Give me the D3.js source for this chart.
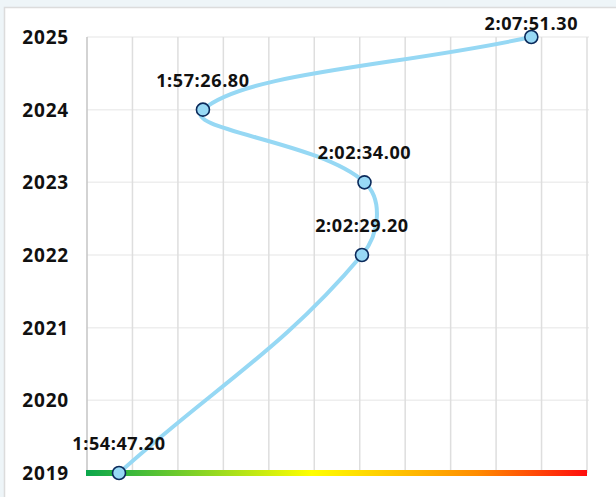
<!DOCTYPE html>
<html>
<head>
<meta charset="utf-8">
<script src="https://cdn.jsdelivr.net/npm/d3@7"></script>
<style>
  html, body { margin: 0; padding: 0; background: #eef5f8; }
  svg { display: block; }
  text { font-family: "Open Sans", sans-serif; font-weight: 700; fill: #111; }
</style>
</head>
<body>
<div id="chart"></div>
<script>
// race years and finish times
const years = [2019, 2022, 2023, 2024, 2025];
const times = ['1:54:47.20', '2:02:29.20', '2:02:34.00', '1:57:26.80', '2:07:51.30'];
const yearTicks = [2019, 2020, 2021, 2022, 2023, 2024, 2025];
const timeBounds = ['1:53:46.3', '2:09:37.2'];

const toSec = s => {
  const p = s.split(':').map(Number);
  return (p[0] * 3600) + (p[1] * 60) + p[2];
};

const W = 616;
const H = 497;
const plotLeft = 87;
const plotRight = 587;
const plotTop = 37;
const plotBottom = 473;

const data = years.map((yr, i) => ({ year: yr, label: times[i], sec: toSec(times[i]) }));

const x = d3.scaleLinear()
  .domain(timeBounds.map(toSec))
  .range([plotLeft, plotRight]);

const y = d3.scaleLinear()
  .domain([2019, 2025])
  .range([plotBottom, plotTop]);

const svg = d3.select('#chart')
  .append('svg')
  .attr('width', W)
  .attr('height', H);

// card
svg.append('rect')
  .attr('x', 4.5)
  .attr('y', 7.5)
  .attr('width', W + 20)
  .attr('height', H + 20)
  .attr('fill', '#fff')
  .attr('stroke', '#dcdcdc')
  .attr('stroke-width', 1.5);

// horizontal grid
svg.append('g')
  .selectAll('line')
  .data(yearTicks.slice(1))
  .enter()
  .append('line')
  .attr('x1', plotLeft)
  .attr('x2', plotRight + 2)
  .attr('y1', d => y(d))
  .attr('y2', d => y(d))
  .attr('stroke', '#eeeeee')
  .attr('stroke-width', 1.5);

// vertical grid
const xDom = x.domain();
const xGrid = d3.range(12).map(i => xDom[0] + (i * (xDom[1] - xDom[0]) / 11));
svg.append('g')
  .selectAll('line')
  .data(xGrid)
  .enter()
  .append('line')
  .attr('x1', d => x(d))
  .attr('x2', d => x(d))
  .attr('y1', plotTop)
  .attr('y2', plotBottom)
  .attr('stroke', (d, i) => (i === 0 ? '#c4c4c4' : '#dedede'))
  .attr('stroke-width', 1.5);

// colour bar along the base
const grad = svg.append('defs')
  .append('linearGradient')
  .attr('id', 'base-grad')
  .attr('x1', '0%')
  .attr('x2', '100%');
[[0, '#0aa64b'], [0.45, '#ffff00'], [0.78, '#ff8c00'], [1, '#ff0d0d']].forEach(s => {
  grad.append('stop').attr('offset', s[0]).attr('stop-color', s[1]);
});
svg.append('rect')
  .attr('x', plotLeft - 1)
  .attr('y', y(2019) - 3)
  .attr('width', plotRight - plotLeft + 1)
  .attr('height', 6)
  .attr('fill', 'url(#base-grad)');

// year labels
svg.append('g')
  .selectAll('text')
  .data(yearTicks)
  .enter()
  .append('text')
  .attr('x', 69)
  .attr('y', d => y(d))
  .attr('dy', '0.36em')
  .attr('text-anchor', 'end')
  .style('font-size', '19px')
  .style('letter-spacing', '0.8px')
  .text(d => d);

// chart.js style bezier (tension 0.4)
const pts = data.map(d => [x(d.sec), y(d.year)]);
const splinePath = (p, t) => {
  const path = d3.path();
  const ctrl = p.map((cur, i) => {
    const prev = p[i - 1] || cur;
    const next = p[i + 1] || cur;
    const d01 = Math.hypot(cur[0] - prev[0], cur[1] - prev[1]);
    const d12 = Math.hypot(next[0] - cur[0], next[1] - cur[1]);
    let s01 = d01 / (d01 + d12);
    let s12 = d12 / (d01 + d12);
    s01 = Number.isNaN(s01) ? 0 : s01;
    s12 = Number.isNaN(s12) ? 0 : s12;
    const fa = t * s01;
    const fb = t * s12;
    return {
      prev: [cur[0] - (fa * (next[0] - prev[0])), cur[1] - (fa * (next[1] - prev[1]))],
      next: [cur[0] + (fb * (next[0] - prev[0])), cur[1] + (fb * (next[1] - prev[1]))]
    };
  });
  path.moveTo(p[0][0], p[0][1]);
  for (let i = 1; i < p.length; i += 1) {
    path.bezierCurveTo(ctrl[i - 1].next[0], ctrl[i - 1].next[1],
      ctrl[i].prev[0], ctrl[i].prev[1], p[i][0], p[i][1]);
  }
  return path.toString();
};

svg.append('path')
  .attr('d', splinePath(pts, 0.4))
  .attr('fill', 'none')
  .attr('stroke', '#96d8f4')
  .attr('stroke-width', 4);

svg.append('g')
  .selectAll('circle')
  .data(data)
  .enter()
  .append('circle')
  .attr('cx', d => x(d.sec))
  .attr('cy', d => y(d.year))
  .attr('r', 6.5)
  .attr('fill', '#98d9f5')
  .attr('stroke', '#0b2a5b')
  .attr('stroke-width', 1.6);

svg.append('g')
  .selectAll('text')
  .data(data)
  .enter()
  .append('text')
  .attr('x', d => x(d.sec))
  .attr('y', d => Math.max(y(d.year) - 23, 30))
  .attr('text-anchor', 'middle')
  .style('font-size', '18px')
  .style('letter-spacing', '0.6px')
  .text(d => d.label);
</script>
</body>
</html>
